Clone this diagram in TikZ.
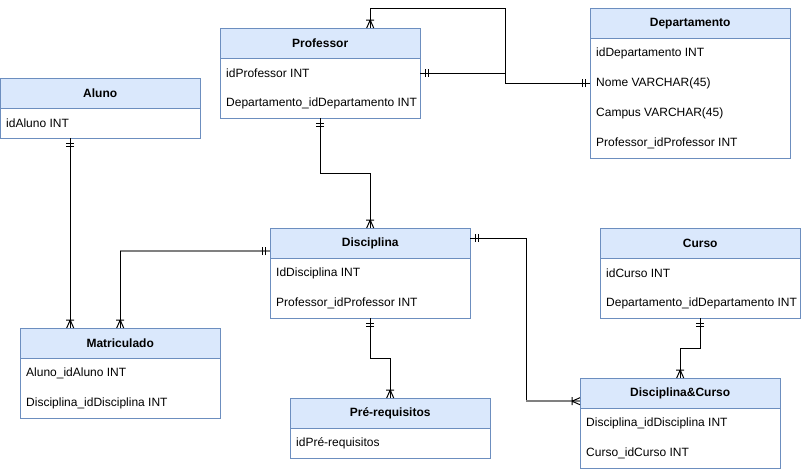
\documentclass[tikz,border=0pt]{standalone}
\usepackage{fontspec}
\setmainfont{Liberation Sans}
\usetikzlibrary{decorations.markings,calc}
\definecolor{hdr}{HTML}{DAE8FC}
\definecolor{bord}{HTML}{6C8EBF}
\definecolor{selg}{HTML}{808080}
\tikzset{
 hdrbox/.style={draw=bord, fill=hdr, minimum width=200pt, minimum height=30pt, inner sep=0pt, anchor=north west, font=\fontsize{12}{14}\selectfont\bfseries},
 bodybox/.style={draw=bord, fill=white, minimum width=200pt, inner sep=0pt, anchor=north west},
 rowtxt/.style={anchor=west, inner sep=0pt, font=\fontsize{12}{14}\selectfont},
 conn/.style={draw=black, line width=1pt},
 selline/.style={draw=selg, line width=1.6pt},
 startone/.style={postaction={decorate, decoration={markings, mark=at position 0 with {\draw[black,line width=1pt] (5,-4)--(5,4) (8,-4)--(8,4);}}}},
 endone/.style={postaction={decorate, decoration={markings, mark=at position 1 with {\draw[black,line width=1pt] (-5,-4)--(-5,4) (-8,-4)--(-8,4);}}}},
 endmany/.style={postaction={decorate, decoration={markings, mark=at position 1 with {\draw[black,line width=1pt] (-8,-4)--(-8,4) (-8,0)--(0,-3.5) (-8,0)--(0,3.5);}}}},
}
\begin{document}
\begin{tikzpicture}[x=1pt,y=-1pt]
\useasboundingbox (0,0) rectangle (801,469);
% Professor
\node[hdrbox] (profh) at (220,28) {Professor};
\node[bodybox, minimum height=60pt] (profb) at (220,58) {};
\node[rowtxt] (pr1) at (226,73) {idProfessor INT};
\node[rowtxt] (pr2) at (226,103) {Departamento\_idDepartamento INT};
% Departamento
\node[hdrbox] (deph) at (590,8) {Departamento};
\node[bodybox, minimum height=120pt] (depb) at (590,38) {};
\node[rowtxt] (de1) at (596,53) {idDepartamento INT};
\node[rowtxt] (de2) at (596,83) {Nome VARCHAR(45)};
\node[rowtxt] (de3) at (596,113) {Campus VARCHAR(45)};
\node[rowtxt] (de4) at (596,143) {Professor\_idProfessor INT};
% Aluno
\node[hdrbox] (aluh) at (0,78) {Aluno};
\node[bodybox, minimum height=30pt] (alub) at (0,108) {};
\node[rowtxt] (al1) at (6,123) {idAluno INT};
% Disciplina
\node[hdrbox] (dish) at (270,228) {Disciplina};
\node[bodybox, minimum height=60pt] (disb) at (270,258) {};
\node[rowtxt] (di1) at (276,273) {IdDisciplina INT};
\node[rowtxt] (di2) at (276,303) {Professor\_idProfessor INT};
% Curso
\node[hdrbox] (curh) at (600,228) {Curso};
\node[bodybox, minimum height=60pt] (curb) at (600,258) {};
\node[rowtxt] (cu1) at (606,273) {idCurso INT};
\node[rowtxt] (cu2) at (606,303) {Departamento\_idDepartamento INT};
% Matriculado
\node[hdrbox] (math) at (20,328) {Matriculado};
\node[bodybox, minimum height=60pt] (matb) at (20,358) {};
\node[rowtxt] (ma1) at (26,373) {Aluno\_idAluno INT};
\node[rowtxt] (ma2) at (26,403) {Disciplina\_idDisciplina INT};
% Pre-requisitos
\node[hdrbox] (preh) at (290,398) {Pré-requisitos};
\node[bodybox, minimum height=30pt] (preb) at (290,428) {};
\node[rowtxt] (pe1) at (296,443) {idPré-requisitos};
% Disciplina&Curso
\node[hdrbox] (dch) at (580,378) {Disciplina\&Curso};
\node[bodybox, minimum height=60pt] (dcb) at (580,408) {};
\node[rowtxt] (dc1) at (586,423) {Disciplina\_idDisciplina INT};
\node[rowtxt] (dc2) at (586,453) {Curso\_idCurso INT};
% connectors
\draw[conn,startone,endmany] (depb.west |- de2) -- ++(-85,0) -- ++(0,-75) -| ([xshift=50pt]profh.north);
\draw[conn,startone,endone] (profb.east |- pr1) -- ++(85,0) |- (depb.west |- de2);
\draw[conn,startone,endmany] (profb.south) -- ++(0,55) -| (dish.north);
\draw[conn,startone,endmany] ([xshift=-30pt]alub.south) -- ([xshift=-50pt]math.north);
\coordinate (c4s) at ([yshift=-8pt]dish.west);
\coordinate (c4k) at (c4s -| math.north);
\draw[selline,startone] (c4s) -- (c4k);
\draw[conn,endmany] (c4k) -- (math.north);
\coordinate (c5s) at ([yshift=5pt]dish.east);
\coordinate (c5e) at ([yshift=-8pt]dch.west);
\coordinate (c5k) at ([xshift=56pt]c5s |- c5e);
\draw[conn,startone] (c5s) -- ([xshift=56pt]c5s) -- (c5k);
\draw[selline,endmany] (c5k) -- (c5e);
\draw[conn,startone,endmany] (curb.south) -- ++(0,30) -| (dch.north);
\draw[conn,startone,endmany] (disb.south) -- ++(0,40) -| (preh.north);
\end{tikzpicture}
\end{document}
